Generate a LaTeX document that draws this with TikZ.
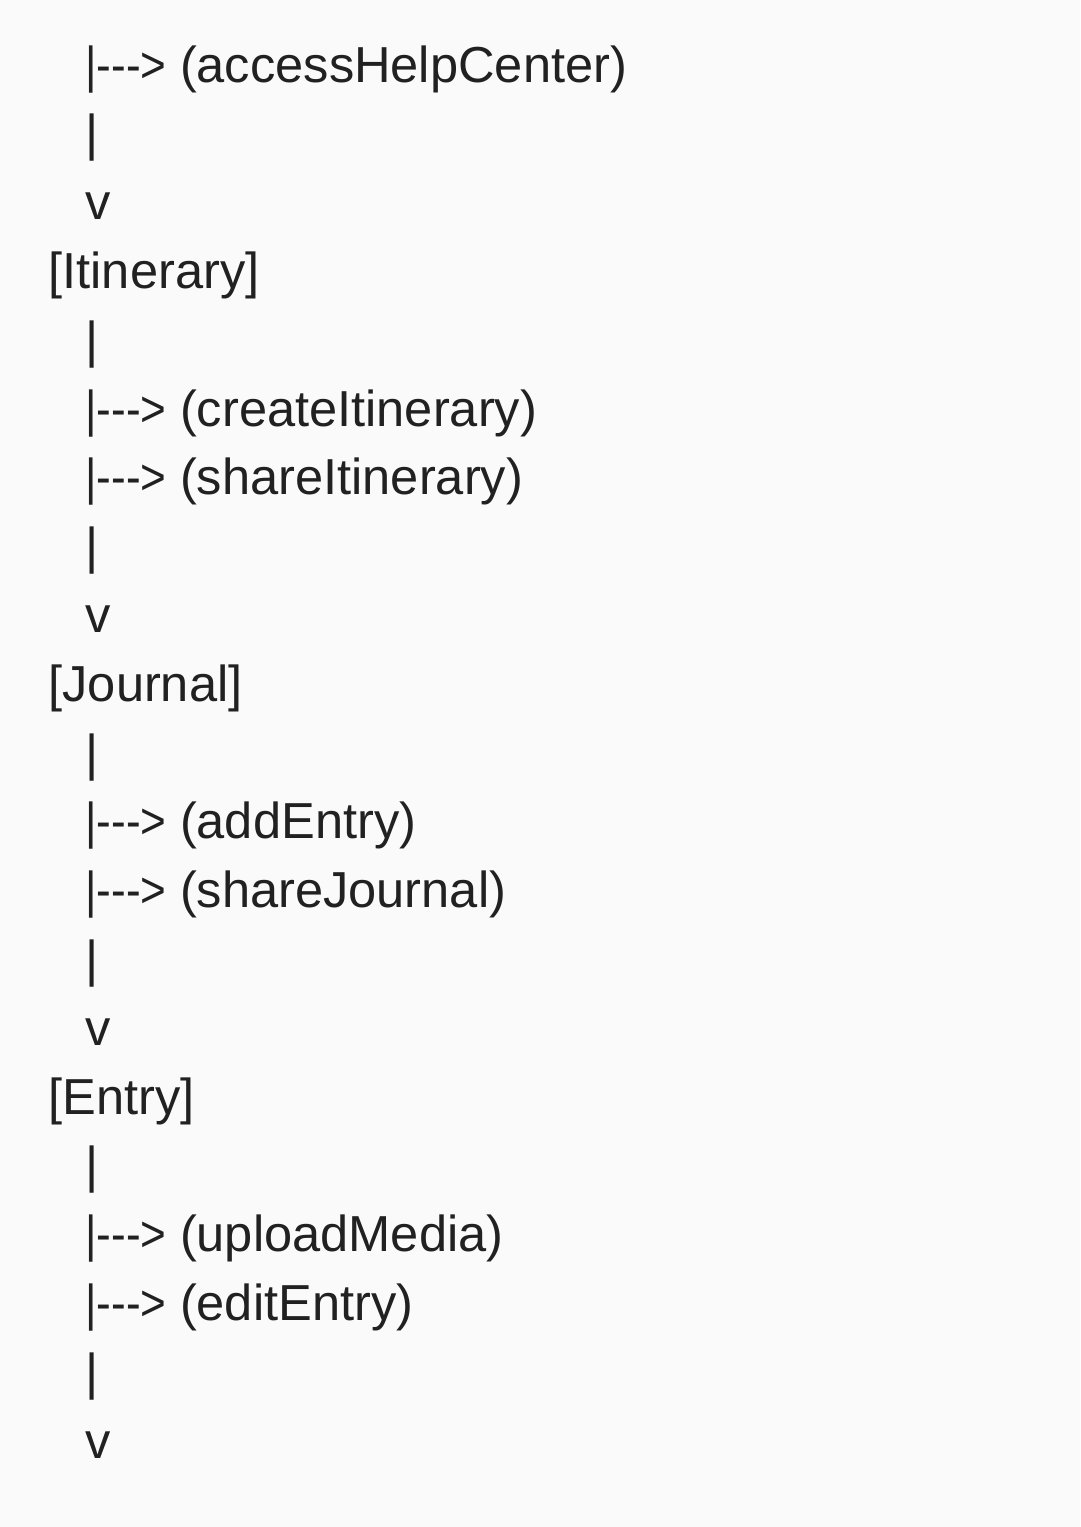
\documentclass[tikz,border=0pt]{standalone}
\usepackage{fontspec}
\usepackage{graphicx}
\newfontfamily\uifont{Liberation Sans}
\definecolor{bgc}{RGB}{250,250,250}
\definecolor{txc}{RGB}{33,33,33}
\newcommand{\arw}{\scalebox{0.87}[1]{|\mbox{-}\mbox{-}\mbox{-}>}}
\begin{document}
\begin{tikzpicture}[x=1pt,y=-1pt,
  every node/.style={inner sep=0pt,outer sep=0pt,text=txc,font=\uifont\fontsize{50.6}{60}\selectfont},
  barsym/.style={anchor=base},
  vsym/.style={anchor=base},
  arrowtxt/.style={anchor=base west},
  label/.style={anchor=base west},
  heading/.style={anchor=base west}]
\fill[bgc] (0,0) rectangle (1080,1527);
\useasboundingbox (0,0) rectangle (1080,1527);
% line baselines: 82 + 68.8*(i-1)
\node[arrowtxt] (a1) at (85.5,82) {\arw};
\node[label] (l1) at (180,82) {(accessHelpCenter)};
\node[barsym] (b2) at (91.7,150.8) {|};
\node[vsym] (v3) at (97.9,219.6) {v};
\node[heading] (h4) at (48.5,288.4) {[Itinerary]};
\node[barsym] (b5) at (91.7,357.2) {|};
\node[arrowtxt] (a6) at (85.5,426) {\arw};
\node[label] (l6) at (180,426) {(createItinerary)};
\node[arrowtxt] (a7) at (85.5,494.8) {\arw};
\node[label] (l7) at (180,494.8) {(shareItinerary)};
\node[barsym] (b8) at (91.7,563.6) {|};
\node[vsym] (v9) at (97.9,632.4) {v};
\node[heading] (h10) at (48.5,701.2) {[Journal]};
\node[barsym] (b11) at (91.7,770) {|};
\node[arrowtxt] (a12) at (85.5,838.8) {\arw};
\node[label] (l12) at (180,838.8) {(addEntry)};
\node[arrowtxt] (a13) at (85.5,907.6) {\arw};
\node[label] (l13) at (180,907.6) {(shareJournal)};
\node[barsym] (b14) at (91.7,976.4) {|};
\node[vsym] (v15) at (97.9,1045.2) {v};
\node[heading] (h16) at (48.5,1114) {[Entry]};
\node[barsym] (b17) at (91.7,1182.8) {|};
\node[arrowtxt] (a18) at (85.5,1251.6) {\arw};
\node[label] (l18) at (180,1251.6) {(uploadMedia)};
\node[arrowtxt] (a19) at (85.5,1320.4) {\arw};
\node[label] (l19) at (180,1320.4) {(editEntry)};
\node[barsym] (b20) at (91.7,1389.2) {|};
\node[vsym] (v21) at (97.9,1458) {v};
\end{tikzpicture}
\end{document}
